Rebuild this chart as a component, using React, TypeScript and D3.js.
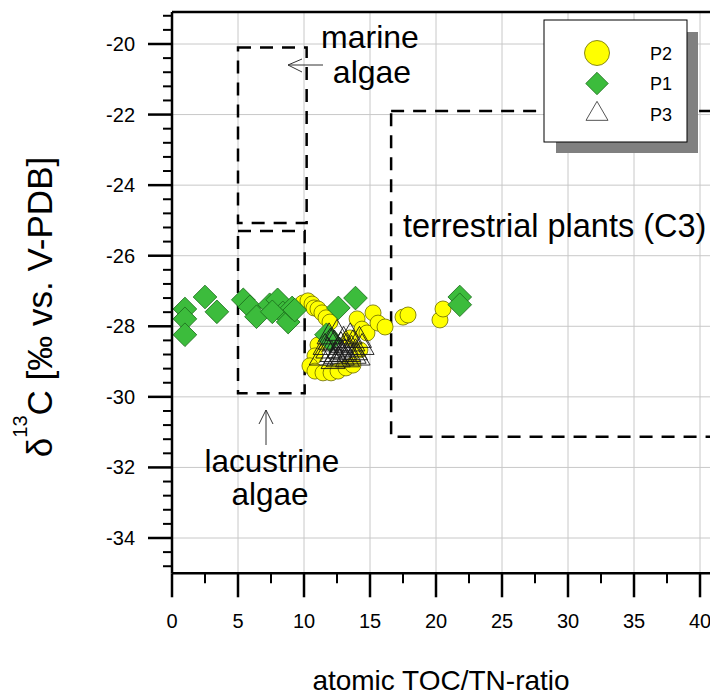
import React from 'react';
import * as d3 from 'd3';

// P2 (yellow circles)
const p2X = [9.92, 10.3, 10.61, 10.76, 11.06, 11.36, 11.67, 11.97, 14.02, 14.39, 14.77, 15.23, 15.61, 16.14, 17.5, 17.88, 20.3, 20.53, 11.06, 10.83, 10.45, 10.83, 11.44, 12.05, 12.58, 13.18, 13.71, 14.24, 13.48];
const p2Y = [-27.34, -27.28, -27.37, -27.48, -27.51, -27.62, -27.76, -27.88, -27.79, -28.08, -28.19, -27.62, -27.91, -28.02, -27.74, -27.68, -27.82, -27.51, -28.53, -28.84, -29.12, -29.27, -29.32, -29.32, -29.27, -29.18, -29.1, -28.67, -28.33];
// P1 (green diamonds)
const p1X = [0.98, 0.98, 0.98, 2.5, 3.4, 5.4, 5.9, 6.4, 7.4, 8.0, 8.4, 8.8, 9.1, 7.6, 9.3, 12.6, 13.9, 11.7, 12.0, 21.8, 21.8];
const p1Y = [-27.51, -27.79, -28.24, -27.17, -27.59, -27.25, -27.45, -27.73, -27.39, -27.25, -27.62, -27.88, -27.48, -27.59, -27.54, -27.48, -27.2, -28.24, -28.4, -27.17, -27.39];
// P3 (open triangles)
const p3X = [11.3, 11.6, 11.9, 12.1, 12.3, 12.5, 12.7, 12.9, 13.0, 13.2, 13.4, 13.5, 13.7, 13.9, 14.1, 14.2, 14.4, 12.2, 12.8, 13.3, 12.0, 13.6, 12.4, 12.6, 13.1, 13.8, 11.8, 12.9];
const p3Y = [-28.9, -28.6, -28.3, -28.8, -28.5, -28.2, -28.7, -28.9, -28.4, -28.6, -28.8, -28.3, -28.5, -28.75, -28.9, -28.4, -28.6, -29.0, -28.55, -28.95, -28.45, -28.65, -28.85, -28.95, -28.75, -28.85, -28.7, -28.8];

const xTicks = [0, 5, 10, 15, 20, 25, 30, 35, 40];
const yTicks = [-20, -22, -24, -26, -28, -30, -32, -34];
const legendLabels = ['P2', 'P1', 'P3'];

// source boxes (data coordinates)
const boxX0 = [5, 5, 16.6];
const boxX1 = [10.2, 10.05, 45];
const boxY0 = [-20.1, -25.3, -21.9];
const boxY1 = [-25.07, -29.9, -31.13];

const FONT = '"Liberation Sans", Arial, sans-serif';

export default function App() {
  const x = d3.scaleLinear().domain([0, 40]).range([172, 700]);
  const y = d3.scaleLinear().domain([-20, -34]).range([44, 538]);
  const x0 = x(0);
  const yBottom = y(-35);
  const yTop = y(-19.09);
  const xRight = 712;

  const yMinor: number[] = [];
  for (let k = 0; k < 40; k++) {
    const v = -19.2 - 0.4 * k;
    if (Math.abs(v / 2 - Math.round(v / 2)) > 1e-6) yMinor.push(v);
  }
  const xMinor = d3.range(0, 8).map((k) => 2.5 + 5 * k);

  const p2 = p2X.map((v, i) => [v, p2Y[i]]);
  const p1 = p1X.map((v, i) => [v, p1Y[i]]);
  const p3 = p3X.map((v, i) => [v, p3Y[i]]);

  const diamond = d3.symbol(d3.symbolSquare, 280)() as string;
  const tri = (w: number, h: number) => {
    const p = d3.path();
    p.moveTo(0, (-h * 2) / 3);
    p.lineTo(w / 2, h / 3);
    p.lineTo(-w / 2, h / 3);
    p.closePath();
    return p.toString();
  };
  const triPath = tri(24, 21);

  const yellow = '#ffff00';
  const yellowStroke = '#6b6b00';
  const green = '#3cbc3c';
  const greenStroke = '#1c6e1c';

  return (
    <svg width={710} height={697} style={{ position: 'absolute', left: 0, top: 0, background: '#fff' }} fontFamily={FONT}>
      <rect x={0} y={0} width={710} height={697} fill="#fff" />
      {/* grid */}
      {xTicks.filter((t) => t > 0).map((t) => (
        <line key={'gx' + t} x1={x(t)} x2={x(t)} y1={yTop} y2={yBottom} stroke="#c8c8c8" strokeWidth={1} />
      ))}
      {yTicks.map((t) => (
        <line key={'gy' + t} x1={x0} x2={xRight} y1={y(t)} y2={y(t)} stroke="#c8c8c8" strokeWidth={1} />
      ))}

      {/* dashed boxes */}
      {boxX0.map((bx, i) => (
        <rect key={'box' + i} x={x(bx)} y={y(boxY0[i])} width={x(boxX1[i]) - x(bx)} height={y(boxY1[i]) - y(boxY0[i])}
          fill="none" stroke="#000" strokeWidth={2.5} strokeDasharray="13,9" />
      ))}

      {/* P2 circles */}
      {p2.map((d, i) => (
        <circle key={'p2' + i} cx={x(d[0])} cy={y(d[1])} r={8} fill={yellow} stroke={yellowStroke} strokeWidth={0.8} />
      ))}
      {/* P1 diamonds */}
      {p1.map((d, i) => (
        <path key={'p1' + i} d={diamond} transform={`translate(${x(d[0])},${y(d[1])}) rotate(45)`} fill={green} stroke={greenStroke} strokeWidth={0.8} />
      ))}
      {/* P3 triangles */}
      {p3.map((d, i) => (
        <path key={'p3' + i} d={triPath} transform={`translate(${x(d[0])},${y(d[1])})`} fill="none" stroke="#1a1a1a" strokeWidth={0.9} />
      ))}

      {/* axes frame */}
      <line x1={x0} x2={xRight} y1={yTop} y2={yTop} stroke="#000" strokeWidth={2.5} />
      <line x1={x0} x2={x0} y1={yTop} y2={yBottom} stroke="#000" strokeWidth={2.5} />
      <line x1={x0} x2={xRight} y1={yBottom} y2={yBottom} stroke="#000" strokeWidth={2.5} />

      {/* y ticks */}
      {yTicks.map((t) => (
        <g key={'yt' + t}>
          <line x1={x0 - 24} x2={x0} y1={y(t)} y2={y(t)} stroke="#000" strokeWidth={2.5} />
          <text x={135} y={y(t) + 7} textAnchor="end" fontSize={20} fill="#000">{t}</text>
        </g>
      ))}
      {yMinor.map((t) => (
        <line key={'ym' + t} x1={x0 - 9} x2={x0} y1={y(t)} y2={y(t)} stroke="#000" strokeWidth={2} />
      ))}
      {/* x ticks */}
      {xTicks.map((t) => (
        <g key={'xt' + t}>
          <line x1={x(t)} x2={x(t)} y1={yBottom} y2={yBottom + 24} stroke="#000" strokeWidth={2.5} />
          <text x={x(t)} y={628} textAnchor="middle" fontSize={20} fill="#000">{t}</text>
        </g>
      ))}
      {xMinor.map((t) => (
        <line key={'xm' + t} x1={x(t)} x2={x(t)} y1={yBottom} y2={yBottom + 10} stroke="#000" strokeWidth={2} />
      ))}

      {/* axis titles */}
      <text x={441} y={690} textAnchor="middle" fontSize={28} fill="#000">atomic TOC/TN-ratio</text>
      <text transform="translate(52,307) rotate(-90)" textAnchor="middle" fontSize={35} fill="#000">
        <tspan>δ</tspan>
        <tspan fontSize={20} dy={-25}>13</tspan>
        <tspan dy={25}>C [‰ vs. V-PDB]</tspan>
      </text>

      {/* annotations */}
      <text x={370} y={48} textAnchor="middle" fontSize={32} fill="#000">marine</text>
      <text x={372} y={83} textAnchor="middle" fontSize={32} fill="#000">algae</text>
      <line x1={323} x2={288} y1={65} y2={65} stroke="#333" strokeWidth={1} />
      <polyline points="302,59 288,65 302,72" fill="none" stroke="#333" strokeWidth={1} />

      <text x={403} y={237} fontSize={32.5} fill="#000">terrestrial plants (C3)</text>

      <text x={272} y={472} textAnchor="middle" fontSize={31.5} fill="#000">lacustrine</text>
      <text x={270} y={505} textAnchor="middle" fontSize={31.5} fill="#000">algae</text>
      <line x1={266} x2={266} y1={445} y2={410} stroke="#333" strokeWidth={1} />
      <polyline points="259,424 266,410 273,424" fill="none" stroke="#333" strokeWidth={1} />

      {/* legend */}
      <rect x={556} y={32} width={142} height={121} fill="#808080" />
      <rect x={544} y={20} width={143} height={122} fill="#fff" stroke="#000" strokeWidth={1} />
      {legendLabels.map((lab, i) => {
        const cy = 53 + i * 30.5;
        return (
          <g key={'lg' + lab}>
            {i === 0 && <circle cx={597} cy={cy} r={12.5} fill={yellow} stroke={yellowStroke} strokeWidth={0.8} />}
            {i === 1 && <path d={diamond} transform={`translate(597,${cy}) rotate(45) scale(0.95)`} fill={green} stroke={greenStroke} strokeWidth={0.8} />}
            {i === 2 && <path d={tri(22, 19)} transform={`translate(597,${cy})`} fill="#fff" stroke="#555" strokeWidth={1} />}
            <text x={650} y={cy + 6.5} fontSize={18} fill="#000">{lab}</text>
          </g>
        );
      })}
    </svg>
  );
}
